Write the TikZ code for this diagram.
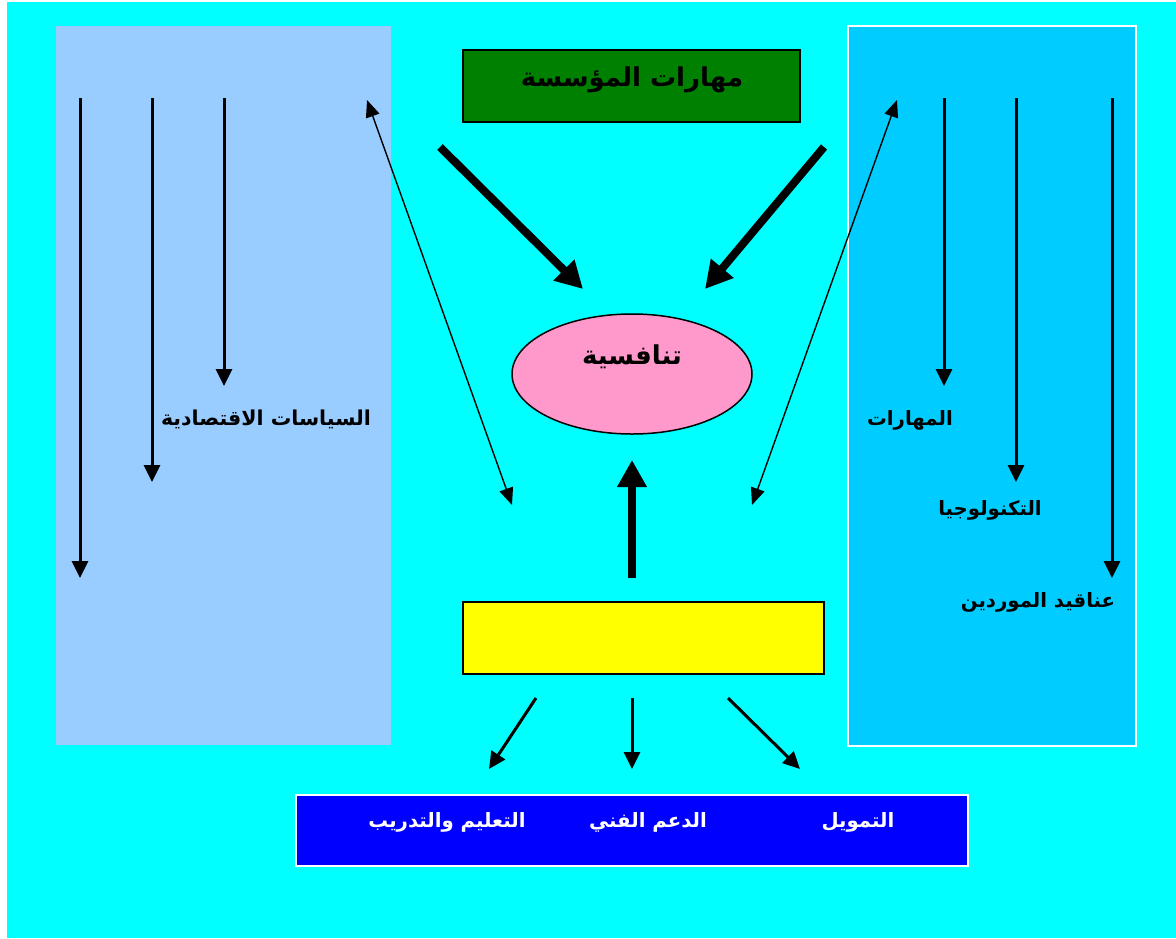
\documentclass[tikz,border=0pt]{standalone}
\usepackage{fontspec}
\TeXXeTstate=1
\newfontfamily\arabicfont[Script=Arabic]{DejaVu Sans}
\usetikzlibrary{arrows.meta,shapes.geometric}
\definecolor{bgcyan}{HTML}{00FFFF}
\definecolor{leftpanel}{HTML}{99CCFF}
\definecolor{rightpanel}{HTML}{00CCFF}
\definecolor{skillgreen}{HTML}{008000}
\definecolor{comppink}{HTML}{FF99CC}
\definecolor{supportblue}{HTML}{0000FF}
\definecolor{coreyellow}{HTML}{FFFF00}
\newcommand{\ar}[1]{{\arabicfont\bfseries\beginR #1\endR}}
\begin{document}
\begin{tikzpicture}[x=1pt,y=-1pt,
  box/.style={rectangle,inner sep=0pt,outer sep=0pt},
  label/.style={inner sep=0pt,font=\fontsize{19.7}{22}\selectfont},
  title/.style={inner sep=0pt,font=\fontsize{26}{28}\selectfont},
  bigarrow/.style={line width=8pt,-{Triangle[length=27pt,width=28pt]}},
  vline/.style={line width=3pt,-{Triangle[length=17pt,width=16pt]}},
  thinlink/.style={line width=1.4pt,{Triangle[length=17pt,width=14pt]}-{Triangle[length=17pt,width=14pt]}},
  subarrow/.style={line width=3pt,-{Triangle[length=17pt,width=16pt]}}]
% canvas
\fill[white] (0,0) rectangle (1176,938);
\fill[bgcyan] (7,2) rectangle (1176,938);
\useasboundingbox (0,0) rectangle (1176,938);

% side panels
\node[box,fill=leftpanel,minimum width=335pt,minimum height=719pt] (policy) at (223.5,385.5) {};
\node[box,fill=rightpanel,draw=white,line width=1.5pt,minimum width=288pt,minimum height=720pt] (market) at (992,386) {};

% central shapes
\node[box,fill=skillgreen,draw=black,line width=1.5pt,minimum width=337pt,minimum height=72pt] (skills) at (631.5,86) {};
\node[title] (skillstxt) at (632,80) {\ar{مهارات المؤسسة}};
\node[ellipse,fill=comppink,draw=black,line width=1.5pt,minimum width=240pt,minimum height=120pt,inner sep=0pt] (comp) at (632,374) {};
\node[title] (comptxt) at (632,357) {\ar{تنافسية}};
\node[box,fill=coreyellow,draw=black,line width=1.5pt,minimum width=361pt,minimum height=72pt] (core) at (643.5,638) {};
\node[box,fill=supportblue,draw=white,line width=1.5pt,minimum width=672pt,minimum height=71pt] (support) at (632,830.5) {};

% labels
\node[label,font=\fontsize{20.5}{22}\selectfont] (econ) at (266,419) {\ar{السياسات الاقتصادية}};
\node[label] (skl) at (910,420) {\ar{المهارات}};
\node[label] (tech) at (990,510) {\ar{التكنولوجيا}};
\node[label] (clus) at (1038,602) {\ar{عناقيد الموردين}};
\node[label,text=white] (edu) at (447,822) {\ar{التعليم والتدريب}};
\node[label,text=white] (tecsup) at (648,822) {\ar{الدعم الفني}};
\node[label,text=white] (fund) at (858,822) {\ar{التمويل}};

% connector ends
\coordinate (l1a) at (80,98);   \coordinate (l1b) at (80,578);
\coordinate (l2a) at (152,98);  \coordinate (l2b) at (152,482);
\coordinate (l3a) at (224,98);  \coordinate (l3b) at (224,386);
\coordinate (r1a) at (944,98);  \coordinate (r1b) at (944,386);
\coordinate (r2a) at (1016,98); \coordinate (r2b) at (1016,482);
\coordinate (r3a) at (1112,98); \coordinate (r3b) at (1112,578);
\coordinate (dlA) at (367,100); \coordinate (dlB) at (512,505);
\coordinate (drA) at (897,100); \coordinate (drB) at (752,505);
\coordinate (tlA) at (440,147); \coordinate (tlB) at (583,289);
\coordinate (trA) at (824,147); \coordinate (trB) at (705,289);
\coordinate (upA) at (632,578); \coordinate (upB) at (632,460);
\coordinate (b1a) at (536,698); \coordinate (b1b) at (489,769);
\coordinate (b2a) at (632,698); \coordinate (b2b) at (632,769);
\coordinate (b3a) at (728,698); \coordinate (b3b) at (800,769);

% vertical arrows inside the panels
\draw[vline] (l1a) -- (l1b);
\draw[vline] (l2a) -- (l2b);
\draw[vline] (l3a) -- (l3b);
\draw[vline] (r1a) -- (r1b);
\draw[vline] (r2a) -- (r2b);
\draw[vline] (r3a) -- (r3b);

% two-way links
\draw[thinlink] (dlA) -- (dlB);
\draw[thinlink] (drA) -- (drB);

% heavy arrows into competitiveness
\draw[bigarrow] (tlA) -- (tlB);
\draw[bigarrow] (trA) -- (trB);
\draw[bigarrow] (upA) -- (upB);

% arrows toward support services
\draw[subarrow] (b1a) -- (b1b);
\draw[subarrow] (b2a) -- (b2b);
\draw[subarrow] (b3a) -- (b3b);
\end{tikzpicture}
\end{document}
